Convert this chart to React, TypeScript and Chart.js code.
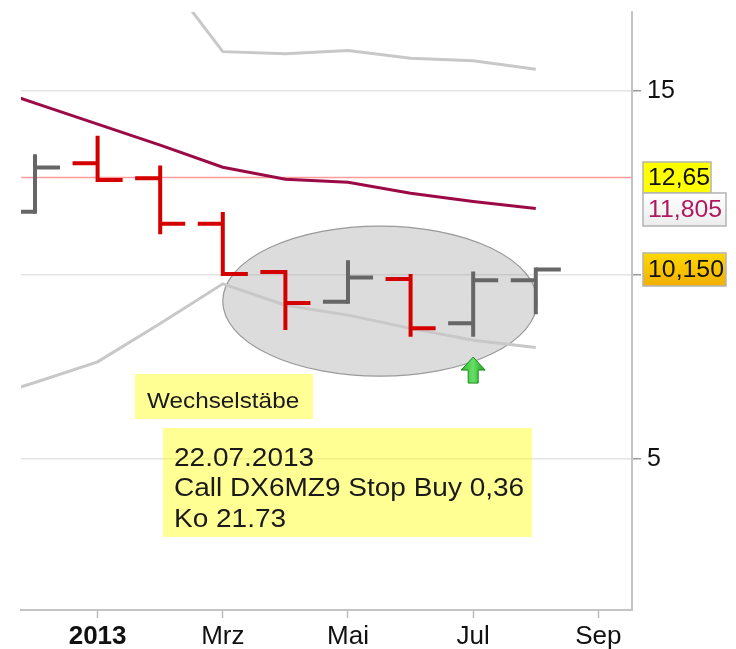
import React, { useEffect, useRef } from 'react';
import { Chart, registerables } from 'chart.js';

Chart.register(...registerables);

// ---- data ----
// x positions are month offsets from January 2013 (0 = Jan 2013)
const monthTickValues = [0, 2, 4, 6, 8];
const monthTickLabels = ['2013', 'Mrz', 'Mai', 'Jul', 'Sep'];
const yTickValues = [5, 10, 15];

const barMonths = [-1, 0, 1, 2, 3, 4, 5, 6, 7];
const barOpen = [11.72, 13.04, 12.63, 11.39, 10.08, 9.27, 9.89, 8.69, 9.86];
const barHigh = [13.23, 13.73, 12.92, 11.66, 10.08, 10.35, 9.97, 10.04, 10.15];
const barLow = [11.72, 12.58, 11.16, 10.03, 8.56, 9.27, 8.38, 8.38, 8.99];
const barClose = [12.92, 12.58, 11.39, 10.03, 9.24, 9.93, 8.55, 9.86, 10.15];

const maMonths = [-2, -1, 0, 1, 2, 3, 4, 5, 6, 7];
const maValues = [15.26, 14.67, 14.1, 13.53, 12.93, 12.6, 12.52, 12.22, 12.0, 11.805];
const upperBand = [23.98, 22.26, 20.56, 18.3, 16.07, 16.01, 16.1, 15.89, 15.82, 15.59];
const lowerBand = [6.54, 7.08, 7.64, 8.68, 9.76, 9.18, 8.91, 8.55, 8.23, 8.03];

const stopLevel = 12.65;
const priceLabelValues = [12.65, 11.805, 10.15];
const priceLabelTexts = ['12,65', '11,805', '10,150'];

const signalMonth = 6;
const signalValue = 7.77;
const noteTitle = 'Wechselstäbe';
const noteLines = ['22.07.2013', 'Call DX6MZ9 Stop Buy 0,36', 'Ko 21.73'];

// ellipse annotation (data coords)
const ellipseCenterMonth = 4.51;
const ellipseCenterValue = 9.29;
const ellipseRadiusMonths = 2.51;
const ellipseRadiusValue = 2.04;

// ---- styles ----
const RED = '#d40000';
const GREY = '#666666';
const FONT = "'Liberation Sans', Arial, sans-serif";

function buildSegments(up: boolean) {
  const ticks: any[] = [];
  const verts: any[] = [];
  barMonths.forEach((m, i) => {
    const isUp = barClose[i] >= barOpen[i];
    if (isUp !== up) return;
    ticks.push({ x: m - 0.4, y: barOpen[i] }, { x: m, y: barOpen[i] }, { x: m, y: null });
    ticks.push({ x: m, y: barClose[i] }, { x: m + 0.4, y: barClose[i] }, { x: m + 0.4, y: null });
    verts.push({ x: m, y: barLow[i] }, { x: m, y: barHigh[i] }, { x: m, y: null });
  });
  return { ticks, verts };
}

function stretchText(ctx: CanvasRenderingContext2D, text: string, x: number, y: number, sx: number) {
  ctx.save();
  ctx.translate(x, y);
  ctx.scale(sx, 1);
  ctx.fillText(text, 0, 0);
  ctx.restore();
}

const annotationPlugin = {
  id: 'annotations',
  beforeDatasetsDraw(chart: any) {
    const { ctx, chartArea, scales } = chart;
    const xs = scales.x;
    const ys = scales.y;
    ctx.save();
    ctx.beginPath();
    ctx.rect(chartArea.left, chartArea.top, chartArea.right - chartArea.left, chartArea.bottom - chartArea.top);
    ctx.clip();
    const cx = xs.getPixelForValue(ellipseCenterMonth);
    const cy = ys.getPixelForValue(ellipseCenterValue);
    const rx = Math.abs(xs.getPixelForValue(ellipseCenterMonth + ellipseRadiusMonths) - cx);
    const ry = Math.abs(ys.getPixelForValue(ellipseCenterValue + ellipseRadiusValue) - cy);
    ctx.beginPath();
    ctx.ellipse(cx, cy, rx, ry, 0, 0, Math.PI * 2);
    ctx.fillStyle = 'rgba(150,150,150,0.33)';
    ctx.fill();
    ctx.lineWidth = 1.2;
    ctx.strokeStyle = '#9a9a9a';
    ctx.stroke();
    ctx.restore();
  },
  afterDatasetsDraw(chart: any) {
    const { ctx, scales } = chart;
    const xs = scales.x;
    const ys = scales.y;
    // green arrow
    const tx = xs.getPixelForValue(signalMonth);
    const ty = ys.getPixelForValue(signalValue);
    ctx.save();
    ctx.beginPath();
    ctx.moveTo(tx, ty);
    ctx.lineTo(tx + 12, ty + 13);
    ctx.lineTo(tx + 5, ty + 13);
    ctx.lineTo(tx + 5, ty + 26);
    ctx.lineTo(tx - 5, ty + 26);
    ctx.lineTo(tx - 5, ty + 13);
    ctx.lineTo(tx - 12, ty + 13);
    ctx.closePath();
    const g = ctx.createLinearGradient(tx - 12, 0, tx + 12, 0);
    g.addColorStop(0, '#2eb82e');
    g.addColorStop(0.5, '#66e066');
    g.addColorStop(1, '#1f9f1f');
    ctx.fillStyle = g;
    ctx.fill();
    ctx.lineWidth = 1;
    ctx.strokeStyle = '#1a8a1a';
    ctx.stroke();
    ctx.restore();
  },
  afterDraw(chart: any) {
    const { ctx, chartArea, scales } = chart;
    const ys = scales.y;
    ctx.save();
    // note boxes
    ctx.fillStyle = 'rgba(255,255,0,0.42)';
    ctx.fillRect(135, 374, 178, 45);
    ctx.fillRect(163, 428, 369, 109);
    ctx.fillStyle = '#1a1a1a';
    ctx.textBaseline = 'alphabetic';
    ctx.textAlign = 'left';
    ctx.font = `21.5px ${FONT}`;
    stretchText(ctx, noteTitle, 147, 408, 1.13);
    ctx.font = `25px ${FONT}`;
    noteLines.forEach((t, i) => stretchText(ctx, t, 174, 466 + i * 30.3, 1.12));

    // price labels on the right axis
    const boxX = chartArea.right + 11;
    const widths = [68, 83, 83];
    const heights = [31, 33, 33];
    let prevBottom = -Infinity;
    priceLabelValues.forEach((v, i) => {
      const py = ys.getPixelForValue(v);
      let top = py - heights[i] / 2;
      if (top < prevBottom) top = prevBottom;
      const h = heights[i];
      const w = widths[i];
      let fill: any;
      let textColor = '#111';
      if (i === 0) {
        fill = '#ffff00';
      } else if (i === 1) {
        const gr = ctx.createLinearGradient(0, top, 0, top + h);
        gr.addColorStop(0, '#ffffff');
        gr.addColorStop(1, '#ececec');
        fill = gr;
        textColor = '#b0185e';
      } else {
        const gr = ctx.createLinearGradient(0, top, 0, top + h);
        gr.addColorStop(0, '#ffd800');
        gr.addColorStop(1, '#f2b000');
        fill = gr;
      }
      ctx.fillStyle = fill;
      ctx.fillRect(boxX, top, w, h);
      ctx.lineWidth = 1.5;
      ctx.strokeStyle = '#b4b4b4';
      ctx.strokeRect(boxX, top, w, h);
      ctx.fillStyle = textColor;
      ctx.font = `23px ${FONT}`;
      ctx.textBaseline = 'middle';
      stretchText(ctx, priceLabelTexts[i], boxX + 5, top + h / 2 + 1, 1.08);
      prevBottom = top + h;
    });
    ctx.restore();
  },
};

export default function App() {
  const canvasRef = useRef<HTMLCanvasElement>(null);

  useEffect(() => {
    document.body.style.margin = '0';
    const down = buildSegments(false);
    const up = buildSegments(true);
    const xMin = -1.2236;
    const xMax = 8.537;

    const lineBase = { pointRadius: 0, pointHoverRadius: 0, fill: false, spanGaps: false, clip: 0, tension: 0 };

    const chart = new Chart(canvasRef.current!, {
      type: 'line',
      data: {
        datasets: [
          { ...lineBase, label: 'down ticks', data: down.ticks, borderColor: RED, borderWidth: 4, borderCapStyle: 'butt', order: 1 },
          { ...lineBase, label: 'down bars', data: down.verts, borderColor: RED, borderWidth: 4, borderCapStyle: 'square', order: 1 },
          { ...lineBase, label: 'up ticks', data: up.ticks, borderColor: GREY, borderWidth: 4, borderCapStyle: 'butt', order: 1 },
          { ...lineBase, label: 'up bars', data: up.verts, borderColor: GREY, borderWidth: 4, borderCapStyle: 'square', order: 1 },
          { ...lineBase, label: 'MA', data: maMonths.map((m, i) => ({ x: m, y: maValues[i] })), borderColor: '#9c0a46', borderWidth: 3, order: 2 },
          { ...lineBase, label: 'upper', data: maMonths.map((m, i) => ({ x: m, y: upperBand[i] })), borderColor: '#c8c8c8', borderWidth: 3, order: 3 },
          { ...lineBase, label: 'lower', data: maMonths.map((m, i) => ({ x: m, y: lowerBand[i] })), borderColor: '#c8c8c8', borderWidth: 3, order: 3 },
          { ...lineBase, label: 'stop', data: [{ x: xMin - 1, y: stopLevel }, { x: xMax + 1, y: stopLevel }], borderColor: '#ff9c9c', borderWidth: 1.5, order: 4 },
        ],
      },
      options: {
        responsive: false,
        animation: false,
        devicePixelRatio: 1,
        parsing: true,
        layout: { padding: { left: 21, top: 12, right: 0, bottom: 0 } },
        plugins: { legend: { display: false }, tooltip: { enabled: false }, title: { display: false } },
        events: [],
        scales: {
          x: {
            type: 'linear',
            position: 'bottom',
            min: xMin,
            max: xMax,
            afterBuildTicks: (scale: any) => {
              scale.ticks = monthTickValues.map((v) => ({ value: v }));
            },
            afterFit: (scale: any) => {
              scale.height = 39;
              scale.paddingLeft = 0;
              scale.paddingRight = 0;
            },
            grid: { drawOnChartArea: false, drawTicks: true, tickLength: 8, tickColor: '#bdbdbd', tickWidth: 1.5 },
            border: { display: true, color: '#c4c4c4', width: 2 },
            ticks: {
              autoSkip: false,
              maxRotation: 0,
              padding: 3,
              color: '#111111',
              font: (ctx: any) => ({ family: FONT, size: 26, weight: ctx.tick && ctx.tick.value === 0 ? 'bold' : 'normal' }),
              callback: (v: any) => monthTickLabels[monthTickValues.indexOf(v)] ?? '',
            },
          },
          y: {
            type: 'linear',
            position: 'right',
            min: 0.897,
            max: 17.147,
            afterBuildTicks: (scale: any) => {
              scale.ticks = yTickValues.map((v) => ({ value: v }));
            },
            afterFit: (scale: any) => {
              scale.width = 104;
              scale.paddingTop = 0;
              scale.paddingBottom = 0;
            },
            grid: { color: '#e4e4e4', lineWidth: 1.5, drawTicks: true, tickLength: 9, tickColor: '#9a9a9a', tickWidth: 1.5 },
            border: { display: true, color: '#c4c4c4', width: 2 },
            ticks: {
              padding: 6,
              color: '#111111',
              font: { family: FONT, size: 25 },
              callback: (v: any) => (v === 10 ? '' : String(v)),
            },
          },
        },
      } as any,
      plugins: [annotationPlugin],
    });
    return () => chart.destroy();
  }, []);

  return (
    <div style={{ width: 736, height: 649 }}>
      <canvas ref={canvasRef} width={736} height={649} style={{ display: 'block' }} />
    </div>
  );
}
